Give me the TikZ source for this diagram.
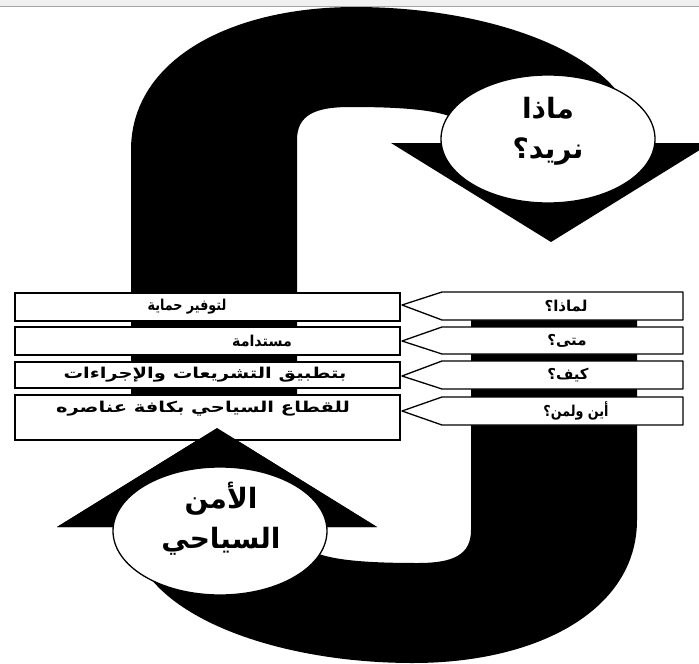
\documentclass[tikz,border=0pt]{standalone}
\usepackage{fontspec}
\usepackage{graphicx}
\usetikzlibrary{shapes.geometric}
\newfontfamily\arabicfont[Script=Arabic]{DejaVu Sans}
\TeXXeTstate=1
\newcommand\archshape[1]{(131,#1) -- (131,150) .. controls (131,60) and (230,7) .. (355,7) .. controls (500,7) and (637,60) .. (637,143) -- (711,143) -- (551,242) -- (391,143) -- (468,143) -- (468,135) .. controls (468,112) and (420,107) .. (350,107) .. controls (315,107) and (297,115) .. (297,140) -- (297,#1) -- cycle}
\tikzset{
  band/.style={fill=black},
  boxL/.style={draw=black, fill=white, line width=1.3pt},
  boxR/.style={draw=black, fill=white, line width=1.3pt, line join=round},
  boxtext/.style={font=\arabicfont\bfseries\fontsize{15}{17}\selectfont, inner sep=0pt},
  bubble/.style={draw=black, fill=white, ellipse, line width=1.3pt, minimum width=214pt, minimum height=128pt, inner sep=0pt},
  bubbletext/.style={font=\arabicfont\bfseries\fontsize{28}{40}\selectfont, align=center, inner sep=0pt}
}
\begin{document}
\begin{tikzpicture}[x=1pt,y=-1pt]
\useasboundingbox (0,0) rectangle (699,664);
\clip (0,0) rectangle (699,664);
\fill[white] (0,0) rectangle (699,664);
% top band with downward arrow
\fill[band] \archshape{420};
% bottom band with upward arrow
\begin{scope}[rotate around={180:(384,335)}]
\fill[band] \archshape{370};
\end{scope}
% top grey strip
\fill[gray!12] (0,0) rectangle (699,6);
\draw[gray!70, line width=1pt] (0,6.5) -- (699,6.5);
% left boxes
\draw[boxL] (15,293) rectangle (400,321);
\draw[boxL] (15,327) rectangle (400,355);
\draw[boxL] (15,362) rectangle (400,388);
\draw[boxL] (15,395) rectangle (400,440);
\node[boxtext] (t1) at (187,307) {\scalebox{0.85}[1]{\beginR لتوفير حماية\endR}};
\node[boxtext] (t2) at (262,341) {\scalebox{0.95}[1]{\beginR مستدامة\endR}};
\node[boxtext] (t3) at (205,375) {\scalebox{1.3}[1]{\beginR بتطبيق التشريعات والإجراءات\endR}};
\node[boxtext] (t4) at (203,409) {\scalebox{1.3}[1]{\beginR للقطاع السياحي بكافة عناصره\endR}};
% right boxes (pointing left)
\draw[boxR] (402,305) -- (442,292) -- (683,292) -- (683,320) -- (442,320) -- cycle;
\draw[boxR] (402,341) -- (442,327) -- (683,327) -- (683,354) -- (442,354) -- cycle;
\draw[boxR] (402,376) -- (442,361) -- (683,361) -- (683,389) -- (442,389) -- cycle;
\draw[boxR] (402,411) -- (442,397) -- (683,397) -- (683,425) -- (442,425) -- cycle;
\node[boxtext] (q1) at (566,306) {\beginR لماذا؟\endR};
\node[boxtext] (q2) at (567,341) {\beginR متى؟\endR};
\node[boxtext] (q3) at (568,375) {\beginR كيف؟\endR};
\node[boxtext] (q4) at (576,411) {\scalebox{0.85}[1]{\beginR أين ولمن؟\endR}};
% upward arrow head over the last left box
\fill[band] (57,527) -- (217,428) -- (377,527) -- cycle;
% bubbles
\node[bubble] (top) at (548,139) {};
\node[bubbletext] at (548,131) {\beginR ماذا\endR\\\beginR نريد؟\endR};
\node[bubble] (bot) at (220,531) {};
\node[bubbletext] at (221,519) {\beginR الأمن\endR\\\beginR السياحي\endR};
\end{tikzpicture}
\end{document}
